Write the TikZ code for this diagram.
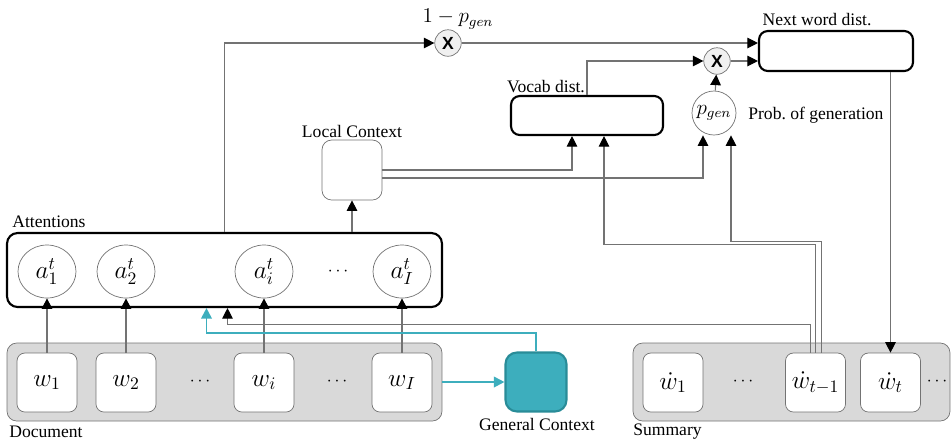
\documentclass[tikz,border=0pt]{standalone}
\usepackage{fontspec}
\setmainfont{Liberation Serif}
\newfontfamily\arialfont{Liberation Sans}
\usetikzlibrary{arrows.meta,calc,shapes.geometric}
\definecolor{myteal}{RGB}{61,174,189}
\definecolor{mytealdark}{RGB}{41,140,152}
\colorlet{mygray}{black!55}

\begin{document}
\begin{tikzpicture}[x=0.02cm,y=-0.02cm]
\useasboundingbox (0,0) rectangle (951,441);
\tikzset{SeqStyle/.style ={draw=mygray, fill=black!15, rounded corners=5.5pt, minimum height=1.56cm}}
\tikzset{BlockStyle/.style ={draw=black, line width=1.2pt, fill=white, rounded corners=5pt}}
\tikzset{WordStyle/.style ={draw=mygray, fill=white, rounded corners=4.5pt, minimum width=1.2cm, minimum height=1.18cm, inner sep=1pt, font=\Large}}
\tikzset{AttStyle/.style ={shape=ellipse, draw=mygray, fill=white, minimum width=1.16cm, minimum height=1.06cm, inner sep=0, font=\Large}}
\tikzset{MultStyle/.style ={shape=circle, draw=mygray, fill=black!6, minimum size=0.53cm, inner sep=0, font=\arialfont\bfseries}}
\tikzset{EdgeStyle/.style ={draw=mygray, line width=0.6pt, -{Triangle[length=6pt,width=6pt,color=black]}}}
\tikzset{BlueStyle/.style ={draw=myteal, line width=1.1pt, -{Triangle[length=6pt,width=6pt]}}}
\tikzset{LabelStyle/.style ={inner sep=0}}
% sequences
\node[SeqStyle, minimum width=8.7cm] (doc) at (224.5,382) {};
\node[SeqStyle, minimum width=6.34cm] (sum) at (791.5,382) {};
\node[LabelStyle, anchor=west] (doclabel) at (9,432) {Document};
\node[LabelStyle, anchor=west] (sumlabel) at (633,432) {Summary};
\node[WordStyle] (w1) at (47,382.5) {$w_1$};
\node[WordStyle] (w2) at (126,382.5) {$w_2$};
\node[LabelStyle] (dots1) at (200,382) {$\cdots$};
\node[WordStyle] (wi) at (264,382.5) {$w_i$};
\node[LabelStyle] (dots2) at (337,382) {$\cdots$};
\node[WordStyle] (wI) at (402,382.5) {$w_I$};
\node[WordStyle] (s1) at (673,382.5) {$\dot{w}_1$};
\node[LabelStyle] (dots3) at (743,382) {$\cdots$};
\node[WordStyle] (wt1) at (815.5,382.5) {$\dot{w}_{t-1}$};
\node[WordStyle] (wt) at (890.5,382.5) {$\dot{w}_t$};
\node[LabelStyle] (dots4) at (937,382) {$\cdots$};
% attentions
\node[BlockStyle, minimum width=8.7cm, minimum height=1.48cm, rounded corners=6pt] (att) at (224.5,270) {};
\node[LabelStyle, anchor=west] (attlabel) at (12,222) {Attentions};
\node[AttStyle] (a1) at (47,271.5) {$a_1^t$};
\node[AttStyle] (a2) at (126,271.5) {$a_2^t$};
\node[AttStyle] (ai) at (264,271.5) {$a_i^t$};
\node[LabelStyle] (dots5) at (338,272) {$\cdots$};
\node[AttStyle] (aI) at (402,271.5) {$a_I^t$};
% contexts
\node[draw=mygray, fill=white, rounded corners=5.5pt, minimum size=1.2cm] (lc) at (352,170) {};
\node[LabelStyle] (lclabel) at (352,131) {Local Context};
\node[draw=mytealdark, line width=1.2pt, fill=myteal, rounded corners=6.5pt, minimum width=1.22cm, minimum height=1.18cm] (gc) at (536,382) {};
\node[LabelStyle] (gclabel) at (537,424) {General Context};
% distributions
\node[BlockStyle, minimum width=3.04cm, minimum height=0.78cm] (vocab) at (587,115.5) {};
\node[LabelStyle] (vocablabel) at (546,87) {Vocab dist.};
\node[BlockStyle, minimum width=3.08cm, minimum height=0.8cm] (nw) at (836,51) {};
\node[LabelStyle] (nwlabel) at (817,20) {Next word dist.};
\node[shape=circle, draw=mygray, fill=white, minimum size=0.88cm, inner sep=0, font=\large] (pgen) at (714,113) {$p_{gen}$};
\node[LabelStyle, anchor=west] (pgenlabel) at (748,115) {Prob.\ of generation};
\node[MultStyle] (m1) at (448,43) {X};
\node[LabelStyle, font=\large] (m1label) at (458,19) {$1-p_{gen}$};
\node[MultStyle] (m2) at (717,61) {X};
% connectors
\foreach \w/\a in {w1/a1,w2/a2,wi/ai,wI/aI}
  \draw[EdgeStyle] (\w) -- (\a);
\draw[BlueStyle] (doc) -- (gc);
\draw[BlueStyle] (gc.north) |- ($(att.south)+(-18,25)$) -- ($(att.south)+(-18,0)$);
\draw[EdgeStyle] ($(wt1.north)+(-5,0)$) |- ($(att.south)+(3,16)$) -- ($(att.south)+(3,0)$);
\draw[EdgeStyle] (att.north) |- (m1);
\draw[EdgeStyle] (lc.south |- att.north) -- (lc);
\draw[EdgeStyle] (m1) -- (m1 -| nw.west);
\draw[EdgeStyle] (vocab.north) |- (m2);
\draw[EdgeStyle] (m2) -- (m2 -| nw.west);
\draw[EdgeStyle] (pgen) -- (m2);
\draw[EdgeStyle] (lc.east) -| ($(vocab.south)+(-15,0)$);
\draw[EdgeStyle] ($(lc.east)+(0,8)$) -| ($(pgen.south)+(-11,0)$);
\draw[EdgeStyle] (wt1.north) |- ($(vocab.south)+(17,108)$) -- ($(vocab.south)+(17,0)$);
\draw[EdgeStyle] ($(wt1.north)+(6,0)$) |- ($(pgen.south)+(17,106)$) -- ($(pgen.south)+(17,0)$);
\draw[EdgeStyle] (wt.north |- nw.south) -- (wt);
\end{tikzpicture}
\end{document}
